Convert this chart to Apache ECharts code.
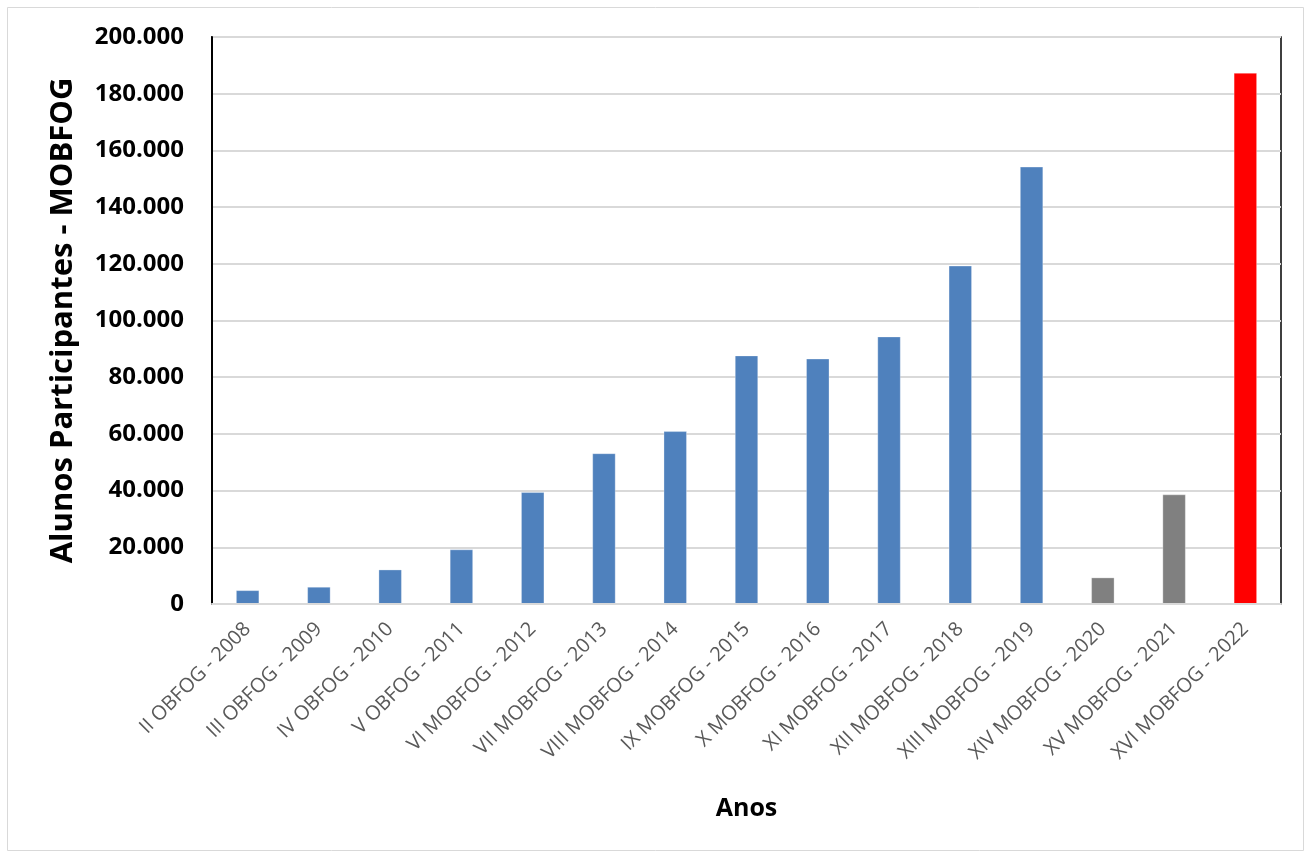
<!DOCTYPE html>
<html>
<head>
<meta charset="utf-8">
<script src="https://cdn.jsdelivr.net/npm/echarts@6/dist/echarts.min.js"></script>
<style>
  html, body { margin: 0; padding: 0; background: #ffffff; }
  #chart { width: 1309px; height: 857px; }
</style>
</head>
<body>
<div id="chart"></div>
<script>
const categories = [
  'II OBFOG - 2008', 'III OBFOG - 2009', 'IV OBFOG - 2010', 'V OBFOG - 2011',
  'VI MOBFOG - 2012', 'VII MOBFOG - 2013', 'VIII MOBFOG - 2014', 'IX MOBFOG - 2015',
  'X MOBFOG - 2016', 'XI MOBFOG - 2017', 'XII MOBFOG - 2018', 'XIII MOBFOG - 2019',
  'XIV MOBFOG - 2020', 'XV MOBFOG - 2021', 'XVI MOBFOG - 2022'
];
const participants = [4800, 6000, 12100, 19200, 39400, 53100, 60900, 87600, 86500, 94300, 119300, 154200, 9300, 38600, 187300];
const editionGroup = ['regular', 'regular', 'regular', 'regular', 'regular', 'regular', 'regular', 'regular',
  'regular', 'regular', 'regular', 'regular', 'pandemic', 'pandemic', 'current'];
const yTicks = [0, 20000, 40000, 60000, 80000, 100000, 120000, 140000, 160000, 180000, 200000];

const groupColors = { regular: '#4f81bd', pandemic: '#808080', current: '#ff0000' };

function fmt(v) {
  return String(v).replace(/\B(?=(\d{3})+(?!\d))/g, '.');
}

const chart = echarts.init(document.getElementById('chart'), null, { renderer: 'canvas' });
chart.setOption({
  backgroundColor: '#ffffff',
  animation: false,
  graphic: [{
    type: 'rect',
    shape: { x: 7.5, y: 7.5, width: 1296, height: 843 },
    style: { fill: 'none', stroke: '#d9d9d9', lineWidth: 1 },
    silent: true
  }],
  grid: {
    left: 212, right: 28, top: 37, bottom: 253,
    show: true, borderColor: '#000000', borderWidth: 1.5, backgroundColor: 'transparent'
  },
  xAxis: {
    type: 'category',
    data: categories,
    name: 'Anos',
    nameLocation: 'middle',
    nameGap: 192,
    nameTextStyle: { fontFamily: 'Open Sans', fontWeight: 'bold', fontSize: 25, color: '#000000' },
    axisLine: { show: true, lineStyle: { color: '#d9d9d9', width: 2 } },
    axisTick: { show: false },
    axisLabel: {
      rotate: 45, margin: 22, interval: 0,
      fontFamily: 'Open Sans', fontSize: 20, color: '#595959'
    },
    z: 5
  },
  yAxis: {
    type: 'value',
    min: 0, max: yTicks[yTicks.length - 1], interval: yTicks[1] - yTicks[0],
    name: 'Alunos Participantes - MOBFOG',
    nameLocation: 'middle',
    nameGap: 133,
    nameRotate: 90,
    nameTextStyle: { fontFamily: 'Open Sans', fontWeight: 'bold', fontSize: 31, color: '#000000' },
    axisLine: { show: true, lineStyle: { color: '#000000', width: 2 } },
    axisTick: { show: false },
    splitLine: { show: true, lineStyle: { color: '#d9d9d9', width: 2 } },
    axisLabel: {
      margin: 28,
      fontFamily: 'Open Sans', fontWeight: 'bold', fontSize: 24, color: '#000000',
      formatter: fmt
    }
  },
  series: [{
    type: 'bar',
    data: participants.map((v, i) => ({ value: v, itemStyle: { color: groupColors[editionGroup[i]] } })),
    barWidth: 23,
    itemStyle: { borderColor: 'rgba(255,255,255,0.6)', borderWidth: 0.5 }
  }]
});
</script>
</body>
</html>
